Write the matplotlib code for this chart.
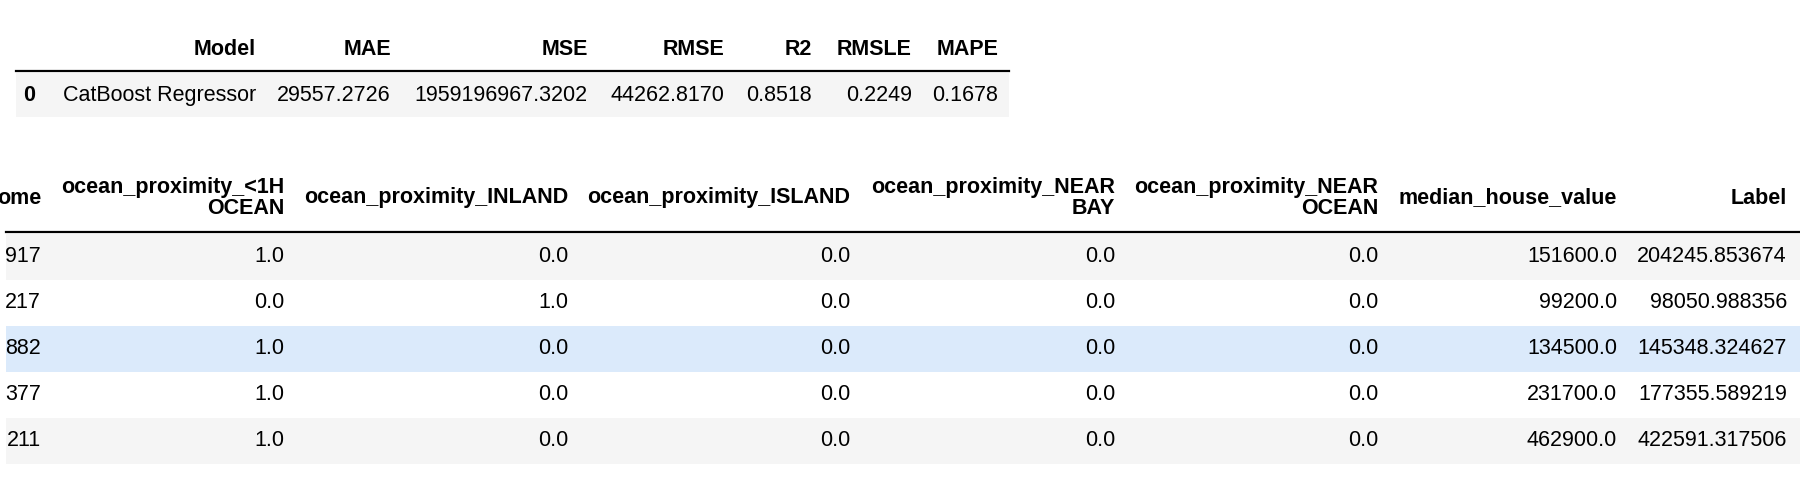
import matplotlib.pyplot as plt
from matplotlib.patches import Rectangle

plt.rcParams['font.family'] = ['Liberation Sans', 'DejaVu Sans']
plt.rcParams['font.size'] = 15.5

# top table: model score
score_cols = ["Model", "MAE", "MSE", "RMSE", "R2", "RMSLE", "MAPE"]
score_row = ["CatBoost Regressor", "29557.2726", "1959196967.3202",
             "44262.8170", "0.8518", "0.2249", "0.1678"]
score_index = "0"

# bottom table: predictions (cut off on the left)
pred_cols = ["ome", "ocean_proximity_<1H\nOCEAN", "ocean_proximity_INLAND",
             "ocean_proximity_ISLAND", "ocean_proximity_NEAR\nBAY",
             "ocean_proximity_NEAR\nOCEAN", "median_house_value", "Label"]
median_income_tail = ["917", "217", "882", "377", "211"]
prox_1h = [1.0, 0.0, 1.0, 1.0, 1.0]
prox_inland = [0.0, 1.0, 0.0, 0.0, 0.0]
prox_island = [0.0, 0.0, 0.0, 0.0, 0.0]
prox_near_bay = [0.0, 0.0, 0.0, 0.0, 0.0]
prox_near_ocean = [0.0, 0.0, 0.0, 0.0, 0.0]
median_house_value = [151600.0, 99200.0, 134500.0, 231700.0, 462900.0]
label = [204245.853674, 98050.988356, 145348.324627, 177355.589219, 422591.317506]

fig = plt.figure(figsize=(18, 4.78), dpi=100)
ax = fig.add_axes([0, 0, 1, 1])
ax.set_xlim(0, 1800)
ax.set_ylim(478, 0)
ax.axis('off')

# ---- top table
top_right = [256, 391, 588, 724, 812, 912, 998]
ax.add_patch(Rectangle((16, 73), 993, 44, color="#f5f5f5", lw=0))
ax.plot([16, 1009], [71, 71], color="black", lw=1.6)
for x, c in zip(top_right, score_cols):
    ax.text(x, 49, c, ha="right", va="center", fontweight="bold")
ax.text(29, 95, score_index, ha="center", va="center", fontweight="bold")
for x, v in zip(top_right, score_row):
    ax.text(x, 95, v, ha="right", va="center")

# ---- bottom table
bot_right = [41, 284, 568, 850, 1115, 1378, 1617, 1787]
row_h = 46
row_top = 234
bands = ["#f5f5f5", "white", "#dbeafb", "white", "#f5f5f5"]
for i, col in enumerate(bands):
    ax.add_patch(Rectangle((6, row_top + i * row_h), 1794, row_h, color=col, lw=0))
ax.plot([6, 1800], [232, 232], color="black", lw=1.6)

for x, c in zip(bot_right, pred_cols):
    ax.text(x, 198, c, ha="right", va="center", fontweight="bold",
            multialignment="right", linespacing=1.0)

columns = [median_income_tail,
           [f"{v:.1f}" for v in prox_1h],
           [f"{v:.1f}" for v in prox_inland],
           [f"{v:.1f}" for v in prox_island],
           [f"{v:.1f}" for v in prox_near_bay],
           [f"{v:.1f}" for v in prox_near_ocean],
           [f"{v:.1f}" for v in median_house_value],
           [f"{v:.6f}" for v in label]]
for x, vals in zip(bot_right, columns):
    for i, v in enumerate(vals):
        ax.text(x, row_top + i * row_h + row_h / 2, v, ha="right", va="center")

fig.savefig("out.png", dpi=100)
